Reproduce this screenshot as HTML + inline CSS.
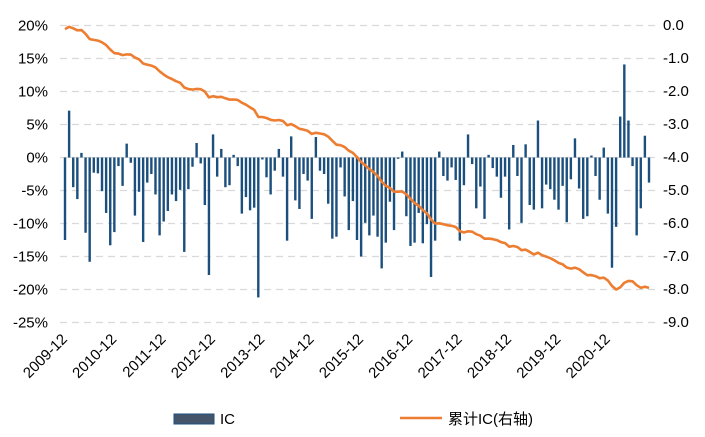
<!DOCTYPE html>
<html><head><meta charset="utf-8"><style>
body{margin:0;background:#fff;}
svg text{font-family:"Liberation Sans","Noto Sans CJK SC",sans-serif;fill:#000;}
</style></head><body>
<svg id="chart" width="705" height="432" viewBox="0 0 705 432">
<g id="grid"></g><g id="bars"></g><g id="line"></g><g id="axes"></g><g id="legend"></g>
</svg>
<script>
const startYear = 2009, startMonth = 12;
const icValues = [-12.5,7.1,-4.5,-6.3,0.7,-11.4,-15.8,-2.3,-2.4,-5.1,-8.4,-13.3,-11.3,-1.3,-4.3,2.1,-0.8,-8.8,-5.2,-12.8,-3.8,-2.5,-5.6,-11.8,-9.7,-8.1,-5.6,-6.6,-4.9,-14.3,-4.8,-1.4,2.2,-0.9,-7.2,-17.8,3.5,-2.9,1.3,-4.5,-4.2,0.4,-1.3,-8.5,-6.0,-8.0,-7.6,
-21.2,-0.3,-3.0,-5.6,-2.0,1.3,-2.9,-12.6,3.2,-6.5,-7.8,-2.5,-3.5,-9.3,3.1,-2.0,-2.5,-7.0,-12.3,-12.0,-1.5,-5.9,-11.0,-6.6,-12.5,-15.0,-9.9,-11.8,-8.8,-12.0,-16.8,-12.9,-6.7,-11.0,-0.2,0.9,-8.9,-13.4,-12.9,-8.4,-13.0,-10.1,-18.1,-12.6,0.9,-2.8,-3.5,
-1.5,-3.4,-12.6,-4.2,3.5,-1.0,-7.7,-4.4,-9.3,0.4,-1.6,-2.9,-6.1,-2.9,-10.9,1.9,-2.8,-9.9,2.0,-7.2,-7.9,5.6,-7.7,-4.1,-4.8,-6.4,-7.9,-4.3,-9.8,-3.3,2.9,-4.7,-9.3,-8.9,0.3,-2.8,-6.4,1.5,-8.5,-16.7,-10.5,6.2,14.1,5.6,-1.3,-11.8,-7.7,3.3,-3.8];
const leftTicks = [20,15,10,5,0,-5,-10,-15,-20,-25];
const rightTicks = [0,-1,-2,-3,-4,-5,-6,-7,-8,-9];
const xLabels = ["2009-12","2010-12","2011-12","2012-12","2013-12","2014-12","2015-12","2016-12","2017-12","2018-12","2019-12","2020-12"];

const NS="http://www.w3.org/2000/svg";
function mk(tag,attrs,parent){const e=document.createElementNS(NS,tag);for(const k in attrs)e.setAttribute(k,attrs[k]);parent.appendChild(e);return e;}
const x0=65, dx=(649-65)/142;
const xPos=i=>x0+i*dx;
const yL=v=>157.5-(v/5)*33;
const yR=v=>25-v*(-33)*-1;  // 0 ->25, -9 ->322
function yRight(v){return 25+(-v)*33;}
const grid=document.getElementById('grid'),bars=document.getElementById('bars'),line=document.getElementById('line'),axes=document.getElementById('axes'),legend=document.getElementById('legend');

leftTicks.forEach((t,i)=>{
  const y=yL(t);
  const g=mk('line',{x1:60,x2:655,y1:y,y2:y,stroke:'#d9d9d9','stroke-width':1.3,'stroke-dasharray':'7,5'},grid);
  
  
  const tx=mk('text',{x:48,y:y+5,'text-anchor':'end','font-size':15},axes);
  tx.textContent=t+'%';
  
  
});
rightTicks.forEach(t=>{
  const tx=mk('text',{x:663,y:yRight(t)+5,'text-anchor':'start','font-size':15},axes);
  tx.textContent=t.toFixed(1);
  
  
});
xLabels.forEach((l,i)=>{
  const x=xPos(i*12)+3, y=340;
  const tx=mk('text',{x:x,y:y,'text-anchor':'end','font-size':15,transform:`rotate(-45 ${x} ${y})`},axes);
  tx.textContent=l;
  
  
});
const z=yL(0);
mk('line',{x1:62,x2:652,y1:z,y2:z,stroke:'#d9d9d9','stroke-width':1},grid);
icValues.forEach((v,i)=>{
  const y=yL(v);
  const b=mk('rect',{x:xPos(i)-1.2,y:Math.min(y,z),width:2.4,height:Math.max(0.8,Math.abs(y-z)),fill:'#1b4f7d'},bars);
  
  
});
let cum=0;const pts=[];
icValues.forEach((v,i)=>{cum+=v/100;pts.push(xPos(i).toFixed(1)+','+yRight(cum).toFixed(1));});
const pl=mk('polyline',{points:pts.join(' '),fill:'none',stroke:'#ed7d31','stroke-width':2.6,'stroke-linejoin':'round'},line);



const sw=mk('rect',{x:174,y:414,width:40,height:10,fill:'#44546a',stroke:'#1b4f7d','stroke-width':1},legend);


const t1=mk('text',{x:220,y:424,'font-size':15},legend);t1.textContent='IC';


const ll=mk('line',{x1:400,x2:442,y1:418,y2:418,stroke:'#ed7d31','stroke-width':2.6},legend);


const t2=mk('text',{x:448,y:424,'font-size':15},legend);t2.textContent='累计IC(右轴)';


</script>
</body></html>
